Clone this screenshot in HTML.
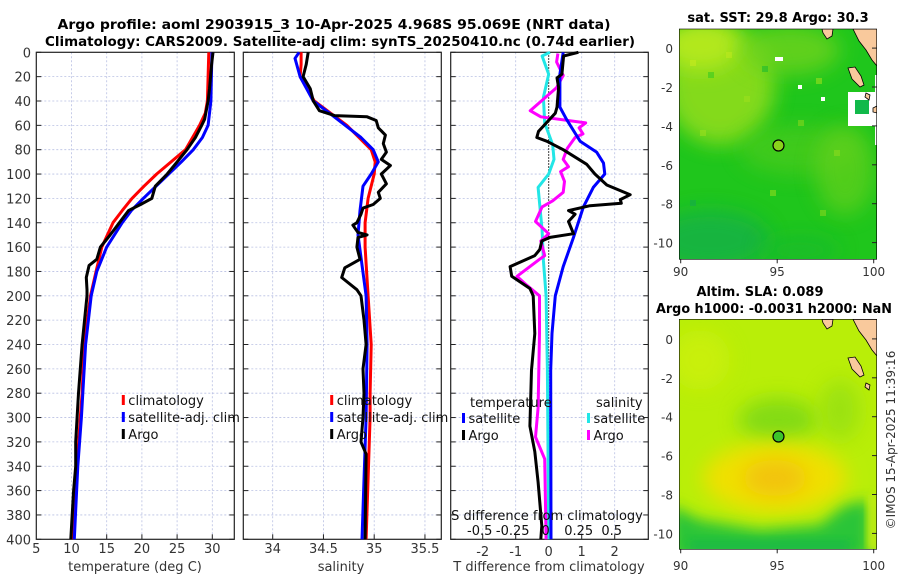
<!DOCTYPE html>
<html><head><meta charset="utf-8">
<style>
html,body{margin:0;padding:0;background:#fff;}
svg{display:block;font-family:"DejaVu Sans","Liberation Sans",sans-serif;}
</style></head>
<body>
<svg id="fig" width="900" height="580" viewBox="0 0 900 580" xmlns="http://www.w3.org/2000/svg">
<defs>
  <filter id="blur6" x="-50%" y="-50%" width="200%" height="200%"><feGaussianBlur stdDeviation="10"/></filter>
  <filter id="blur9" x="-50%" y="-50%" width="200%" height="200%"><feGaussianBlur stdDeviation="7"/></filter>
  <filter id="blur3" x="-50%" y="-50%" width="200%" height="200%"><feGaussianBlur stdDeviation="4"/></filter>
  <clipPath id="clipMap1"><rect x="679.3" y="29" width="197.4" height="230.3"/></clipPath>
  <clipPath id="clipMap2"><rect x="679.3" y="319.3" width="197.4" height="230"/></clipPath>
</defs>
<g font-weight="bold" font-size="13" fill="#000" text-anchor="middle">
  <text x="334" y="29" textLength="553" lengthAdjust="spacingAndGlyphs">Argo profile: aoml 2903915_3 10-Apr-2025 4.968S 95.069E (NRT data)</text>
  <text x="340" y="46" textLength="590" lengthAdjust="spacingAndGlyphs">Climatology: CARS2009. Satellite-adj clim: synTS_20250410.nc (0.74d earlier)</text>
</g>
<g id="p1"></g>
<g id="p2"></g>
<g id="p3"></g>

<!-- Map 1: SST -->
<g>
  <text x="778" y="22" font-size="13" font-weight="bold" text-anchor="middle">sat. SST: 29.8 Argo: 30.3</text>
  <g clip-path="url(#clipMap1)">
    <rect x="679.3" y="29" width="197.4" height="230.3" fill="#1fc61c"/>
    <ellipse cx="720" cy="85" rx="55" ry="60" fill="#8fdc1e" filter="url(#blur6)" opacity="0.9"/>
    <ellipse cx="700" cy="45" rx="40" ry="25" fill="#b2e81c" filter="url(#blur6)"/>
    <ellipse cx="790" cy="50" rx="50" ry="25" fill="#6fd31c" filter="url(#blur6)" opacity="0.8"/>
    <ellipse cx="800" cy="150" rx="60" ry="25" fill="#55cc1c" filter="url(#blur6)" opacity="0.6"/>
    <ellipse cx="845" cy="170" rx="30" ry="45" fill="#66d01c" filter="url(#blur6)" opacity="0.7"/>
    <ellipse cx="710" cy="240" rx="60" ry="30" fill="#17b048" filter="url(#blur6)" opacity="0.8"/>
    <ellipse cx="800" cy="250" rx="40" ry="15" fill="#12b832" filter="url(#blur6)" opacity="0.6"/>
    <g opacity="0.55">
      <rect x="690" y="60" width="6" height="6" fill="#c8ec20"/><rect x="708" y="72" width="6" height="6" fill="#30c820"/>
      <rect x="726" y="52" width="6" height="6" fill="#c0ea20"/><rect x="744" y="96" width="6" height="6" fill="#9ee01e"/>
      <rect x="762" y="66" width="6" height="6" fill="#16b830"/><rect x="798" y="120" width="6" height="6" fill="#8ed81e"/>
      <rect x="816" y="78" width="6" height="6" fill="#a6e21e"/><rect x="834" y="150" width="6" height="6" fill="#90dc1e"/>
      <rect x="700" y="130" width="6" height="6" fill="#a0e01e"/><rect x="770" y="190" width="6" height="6" fill="#9add1e"/>
      <rect x="820" y="210" width="6" height="6" fill="#8ed81e"/><rect x="690" y="200" width="6" height="6" fill="#16a850"/>
    </g>
    <rect x="848" y="92" width="28" height="34" fill="#ffffff"/>
    <rect x="855" y="100" width="14" height="14" fill="#11b94a"/>
    <rect x="875" y="75" width="4" height="70" fill="#ffffff"/>
    <rect x="775" y="57" width="8" height="4" fill="#ffffff"/>
    <rect x="798" y="85" width="4" height="4" fill="#ffffff"/>
    <rect x="821" y="97" width="4" height="4" fill="#ffffff"/>
    <polygon points="853,29 877,29 877,66 872,60 866,50 859,41" fill="#f9c99c" stroke="#000" stroke-width="0.8"/>
    <polygon points="822,29 833,29 832,36 827,39 823,33" fill="#f9c99c" stroke="#000" stroke-width="0.8"/>
    <polygon points="848,68 855,67 861,76 864,85 860,87 852,79" fill="#f9c99c" stroke="#000" stroke-width="0.8"/>
    <polygon points="866,93 870,95 869,100 865,97" fill="#f9c99c" stroke="#000" stroke-width="0.8"/>
    <polygon points="873,108 877,106 877,113 873,112" fill="#f9c99c" stroke="#000" stroke-width="0.8"/>
  </g>
  <rect x="679.3" y="29" width="197.4" height="230.3" fill="none" stroke="#000" stroke-width="0.6"/>
  <circle cx="778.5" cy="145.5" r="5.5" fill="#8ad31b" stroke="#000" stroke-width="1.2"/>
  <g id="map1axes" font-size="12" fill="#333"></g>
</g>

<!-- Map 2: SLA -->
<g>
  <text x="760" y="296" font-size="13" font-weight="bold" text-anchor="middle">Altim. SLA: 0.089</text>
  <text x="774" y="313" font-size="13" font-weight="bold" text-anchor="middle" textLength="236" lengthAdjust="spacingAndGlyphs">Argo h1000: -0.0031 h2000: NaN</text>
  <g clip-path="url(#clipMap2)">
    <rect x="679.3" y="319.3" width="197.4" height="230" fill="#b9ee08"/>
    <ellipse cx="700" cy="360" rx="30" ry="30" fill="#ccf00a" filter="url(#blur6)" opacity="0.8"/>
    <ellipse cx="778" cy="420" rx="40" ry="22" fill="#7ed916" filter="url(#blur6)" opacity="0.9"/>
    <ellipse cx="840" cy="410" rx="20" ry="30" fill="#8fdd14" filter="url(#blur6)" opacity="0.7"/>
    <ellipse cx="775" cy="478" rx="72" ry="35" fill="#f0e000" filter="url(#blur6)"/>
    <ellipse cx="775" cy="478" rx="32" ry="18" fill="#f2c30c" filter="url(#blur6)"/>
    <path d="M670,505 L700,520 L760,530 L820,525 L845,505 L870,500 L870,560 L670,560 Z" fill="#2cc539" filter="url(#blur9)"/>
    <rect x="690" y="540" width="160" height="12" fill="#18b84a" filter="url(#blur3)" opacity="0.7"/>
    <rect x="868" y="495" width="9" height="55" fill="#c6ee10" filter="url(#blur3)"/>
    <polygon points="853,319.3 877,319.3 877,356 872,350 866,340 859,331" fill="#f9c99c" stroke="#000" stroke-width="0.8"/>
    <polygon points="822,319.3 833,319.3 832,326 827,329 823,323" fill="#f9c99c" stroke="#000" stroke-width="0.8"/>
    <polygon points="848,358 855,357 861,366 864,375 860,377 852,369" fill="#f9c99c" stroke="#000" stroke-width="0.8"/>
    <polygon points="866,383 870,385 869,390 865,387" fill="#f9c99c" stroke="#000" stroke-width="0.8"/>
  </g>
  <rect x="679.3" y="319.3" width="197.4" height="230" fill="none" stroke="#000" stroke-width="0.6"/>
  <circle cx="778.5" cy="436.5" r="5.5" fill="#3cc42a" stroke="#000" stroke-width="1.2"/>
  <g id="map2axes" font-size="12" fill="#333"></g>
</g>
<text transform="translate(895,440) rotate(-90)" font-size="12" fill="#333" text-anchor="middle">©IMOS 15-Apr-2025 11:39:16</text>
</svg>
<script>
// ---- data ----
const tickDepths = [0,20,40,60,80,100,120,140,160,180,200,220,240,260,280,300,320,340,360,380,400];
const tempTicks = [5,10,15,20,25,30];
const salTicks = [34,34.5,35,35.5];
const salTickLabels = ["34","34.5","35","35.5"];
const dTTicks = [-2,-1,0,1,2];
const dSTickLabels = ["-0.5","-0.25","0","0.25","0.5"];
const dSTicks = [-0.5,-0.25,0,0.25,0.5];

const climTdepth = [0,40,50,60,80,100,110,120,130,140,160,180,200,240,280,300,340,400];
const climT      = [29.5,29.3,29.0,28.2,26.2,22.1,20.3,18.6,17.2,15.9,14.3,13.5,12.7,11.8,11.5,11.25,10.8,10.2];
const satTdepth  = [0,40,60,70,80,90,100,120,130,140,160,180,200,240,280,300,340,400];
const satT       = [29.95,29.8,29.4,28.6,27.3,25.6,23.8,20.2,18.5,17.2,15.0,13.6,12.8,12.0,11.6,11.4,10.9,10.4];
const argoTdepth = [0,10,30,40,55,60,70,80,90,100,110,120,125,130,140,150,155,160,170,175,185,195,200,240,280,300,320,340,360,400];
const argoT      = [30.1,29.9,29.6,29.4,28.9,28.5,27.6,26.4,25.0,23.6,21.9,21.4,19.8,18.1,16.8,15.5,14.8,14.1,13.6,12.5,12.1,12.2,12.2,11.5,11.0,10.8,10.6,10.6,10.3,9.9];

const climSdepth = [0,10,20,40,60,80,90,100,120,140,160,200,240,280,300,400];
const climS      = [34.28,34.28,34.27,34.41,34.73,34.97,35.01,35.0,34.94,34.91,34.91,34.94,34.97,34.96,34.96,34.92];
const satSdepth  = [0,5,20,40,50,70,80,90,100,110,130,150,200,240,300,400];
const satS       = [34.26,34.22,34.27,34.40,34.56,34.87,34.99,35.04,34.97,34.89,34.86,34.84,34.92,34.93,34.92,34.88];
const argoSdepth = [0,10,20,30,40,48,52,53,56,62,68,75,82,88,93,100,108,115,120,125,128,133,140,142,148,150,152,160,170,177,185,195,200,220,240,260,280,300,320,330,400];
const argoS      = [34.35,34.33,34.30,34.37,34.40,34.46,34.61,34.93,35.02,35.04,35.11,35.09,35.12,35.07,35.16,35.07,35.12,35.04,35.06,34.99,34.89,34.87,34.83,34.79,34.84,34.93,34.84,34.83,34.86,34.71,34.68,34.83,34.87,34.90,34.92,34.89,34.90,34.89,34.87,34.92,34.91];

const argoDTdepth = [0,3,18,21,29,45,50,65,70,73,80,92,100,109,117,121,124,126,130,133,139,149,152,155,162,167,176,184,194,200,231,261,307,328,353,389,400];
const argoDT      = [0.9,0.45,0.4,0.25,0.3,0.25,0.2,-0.31,-0.36,-0.06,0.44,1.15,1.4,1.76,2.47,2.17,2.2,1.25,0.6,0.8,0.6,0.75,0.04,-0.21,-0.27,-0.42,-1.17,-1.12,-0.57,-0.47,-0.42,-0.52,-0.57,-0.42,-0.32,-0.21,-0.24];
const satDTdepth  = [0,18,45,55,73,82,91,100,111,127,152,176,200,231,261,400];
const satDT       = [0.44,0.34,0.34,0.54,0.95,1.45,1.66,1.7,1.35,1.05,0.75,0.44,0.2,0.1,0.06,0.07];
const satDSdepth  = [0,3,18,37,58,76,88,100,111,146,171,200,261,400];
const satDS       = [0.01,-0.05,0.0,-0.04,-0.03,0.03,0.04,0.0,-0.08,-0.05,-0.04,-0.02,-0.01,0.0];
const argoDSdepth = [1,8,19,29,48,53,58,62,67,70,79,88,94,98,106,115,122,127,139,149,155,167,170,184,191,200,231,292,316,334,400];
const argoDS      = [0.07,0.06,0.11,0.06,-0.14,-0.06,0.28,0.23,0.26,0.20,0.14,0.11,0.15,0.09,0.12,0.11,0.03,-0.05,-0.1,0.0,-0.06,-0.03,-0.07,-0.24,-0.17,-0.07,-0.07,-0.08,-0.1,-0.03,-0.02];

const mapLatTicks = [0,-2,-4,-6,-8,-10];
const mapLonTicks = [90,95,100];

// ---- scales ----
const NS = "http://www.w3.org/2000/svg";
const TOP = 52.3, BOT = 539.3;
const yD = d => TOP + d * (BOT - TOP) / 400;
const xT = t => 36.3 + (t - 5) * 7.04;
const xS = s => 272.7 + (s - 34) * 101.5;
const xDT = v => 548.7 + v * 33;
const xDS = v => 548.7 + v * 132;

function mk(parent, tag, attrs) {
  const e = document.createElementNS(NS, tag);
  for (const k in attrs) e.setAttribute(k, attrs[k]);
  parent.appendChild(e);
  return e;
}
function axesBox(g, x0, x1, vgrid, dotted0) {
  tickDepths.forEach(d => {
    if (d > 0 && d < 400) {
      const l = mk(g, 'line', {x1: x0, x2: x1, y1: yD(d), y2: yD(d), stroke: '#b9c0e3', 'stroke-width': 0.8, 'stroke-dasharray': '2,2'});
      
      
    }
    mk(g, 'line', {x1: x0, x2: x0 + 5, y1: yD(d), y2: yD(d), stroke: '#222', 'stroke-width': 1});
    mk(g, 'line', {x1: x1 - 5, x2: x1, y1: yD(d), y2: yD(d), stroke: '#222', 'stroke-width': 1});
  });
  vgrid.forEach(x => {
    const l = mk(g, 'line', {x1: x, x2: x, y1: TOP, y2: BOT, stroke: '#b9c0e3', 'stroke-width': 0.8, 'stroke-dasharray': '2,2'});
    
    
    mk(g, 'line', {x1: x, x2: x, y1: BOT - 5, y2: BOT, stroke: '#222', 'stroke-width': 1});
  });
  if (dotted0 !== undefined) {
    const z = mk(g, 'line', {x1: dotted0, x2: dotted0, y1: TOP, y2: BOT, stroke: '#000', 'stroke-width': 1, 'stroke-dasharray': '1.5,1.5'});
    
    
  }
  const r = mk(g, 'rect', {x: x0, y: TOP, width: x1 - x0, height: BOT - TOP, fill: 'none', stroke: '#222', 'stroke-width': 1.2});
  
  
}
function series(g, xs, ds, fx, color, name) {
  const pts = xs.map((v, i) => fx(v).toFixed(1) + ',' + yD(ds[i]).toFixed(1)).join(' ');
  const p = mk(g, 'polyline', {points: pts, fill: 'none', stroke: color, 'stroke-width': 3, 'stroke-linejoin': 'round'});
  
  
}
function txt(g, x, y, s, attrs) {
  const t = mk(g, 'text', Object.assign({x: x, y: y, 'font-size': 13, fill: '#333'}, attrs || {}));
  t.textContent = s;
  return t;
}
function legendItem(g, mx, y, color, label, name) {
  const it = mk(g, 'g', {});
  
  
  mk(it, 'line', {x1: mx, x2: mx, y1: y - 10, y2: y, stroke: color, 'stroke-width': 3});
  txt(it, mx + 5, y, label, {fill: '#111'});
}

// Panel 1 - temperature
const p1 = document.getElementById('p1');
axesBox(p1, 36.3, 234.3, tempTicks.filter(t => t > 5).map(xT));
tickDepths.forEach(d => {
  const t = txt(p1, 31, yD(d) + 5, String(d), {'text-anchor': 'end'});
  
  
});
tempTicks.forEach(v => {
  const t = txt(p1, xT(v), 553, String(v), {'text-anchor': 'middle'});
  
  
});
const xl1 = txt(p1, 135, 571, 'temperature (deg C)', {'text-anchor': 'middle'});


series(p1, climT, climTdepth, xT, '#f00', 'climatology-temperature-line');
series(p1, satT, satTdepth, xT, '#00f', 'satellite-temperature-line');
series(p1, argoT, argoTdepth, xT, '#000', 'argo-temperature-line');
const lg1 = mk(p1, 'g', {});


legendItem(lg1, 123.3, 405, '#f00', 'climatology', 'legend-entry-climatology');
legendItem(lg1, 123.3, 422, '#00f', 'satellite-adj. clim', 'legend-entry-satellite');
legendItem(lg1, 123.3, 439, '#000', 'Argo', 'legend-entry-argo');

// Panel 2 - salinity
const p2 = document.getElementById('p2');
axesBox(p2, 243.3, 441.3, salTicks.map(xS));
salTicks.forEach((v, i) => {
  const t = txt(p2, xS(v), 553, salTickLabels[i], {'text-anchor': 'middle'});
  
  
});
const xl2 = txt(p2, 341, 571, 'salinity', {'text-anchor': 'middle'});


series(p2, climS, climSdepth, xS, '#f00', 'climatology-salinity-line');
series(p2, satS, satSdepth, xS, '#00f', 'satellite-salinity-line');
series(p2, argoS, argoSdepth, xS, '#000', 'argo-salinity-line');
const lg2 = mk(p2, 'g', {});


legendItem(lg2, 331.7, 405, '#f00', 'climatology', 'legend-entry-climatology');
legendItem(lg2, 331.7, 422, '#00f', 'satellite-adj. clim', 'legend-entry-satellite');
legendItem(lg2, 331.7, 439, '#000', 'Argo', 'legend-entry-argo');

// Panel 3 - differences
const p3 = document.getElementById('p3');
axesBox(p3, 450.7, 648.3, dTTicks.filter(v => v !== 0).map(xDT), xDT(0));
series(p3, satDS, satDSdepth, xDS, '#22e6e6', 'satellite-salinity-diff-line');
series(p3, argoDS, argoDSdepth, xDS, '#f0f', 'argo-salinity-diff-line');
series(p3, satDT, satDTdepth, xDT, '#00f', 'satellite-temperature-diff-line');
series(p3, argoDT, argoDTdepth, xDT, '#000', 'argo-temperature-diff-line');
dTTicks.forEach(v => {
  const t = txt(p3, xDT(v), 556, String(v), {'text-anchor': 'middle'});
  
  
});
const xl3 = txt(p3, 549, 571, 'T difference from climatology', {'text-anchor': 'middle'});


const sl = txt(p3, 547, 520, 'S difference from climatology', {'text-anchor': 'middle', fill: '#111'});


dSTicks.forEach((v, i) => {
  const t = txt(p3, xDS(v) - 3, 535, dSTickLabels[i], {'text-anchor': 'middle', fill: '#111'});
  
  
});
const lg3 = mk(p3, 'g', {});


const lh1 = txt(lg3, 470, 407, 'temperature', {fill: '#111'});


const lh2 = txt(lg3, 596, 407, 'salinity', {fill: '#111'});


legendItem(lg3, 463.5, 423, '#00f', 'satellite', 'legend-entry-temperature-satellite');
legendItem(lg3, 463.5, 440, '#000', 'Argo', 'legend-entry-temperature-argo');
legendItem(lg3, 588.5, 423, '#22e6e6', 'satellite', 'legend-entry-salinity-satellite');
legendItem(lg3, 588.5, 440, '#f0f', 'Argo', 'legend-entry-salinity-argo');

// Map axes
function mapAxes(id, lat0y, pxPerDeg, bottomY, labelY) {
  const g = document.getElementById(id);
  mapLatTicks.forEach(v => {
    const y = lat0y - v * pxPerDeg;
    const t = txt(g, 673, y + 5, String(v), {'text-anchor': 'end', 'font-size': 12});
    
    
    mk(g, 'line', {x1: 872, x2: 876.7, y1: y, y2: y, stroke: '#222', 'stroke-width': 1});
  });
  mapLonTicks.forEach(v => {
    const x = 680.7 + (v - 90) * 19.3;
    const t = txt(g, x, labelY, String(v), {'text-anchor': 'middle', 'font-size': 12});
    
    
    mk(g, 'line', {x1: x, x2: x, y1: bottomY, y2: bottomY + 4, stroke: '#222', 'stroke-width': 1});
  });
}
mapAxes('map1axes', 48.1, 19.45, 259.3, 276);
mapAxes('map2axes', 338.9, 19.45, 549.3, 570);
</script>
</body></html>
